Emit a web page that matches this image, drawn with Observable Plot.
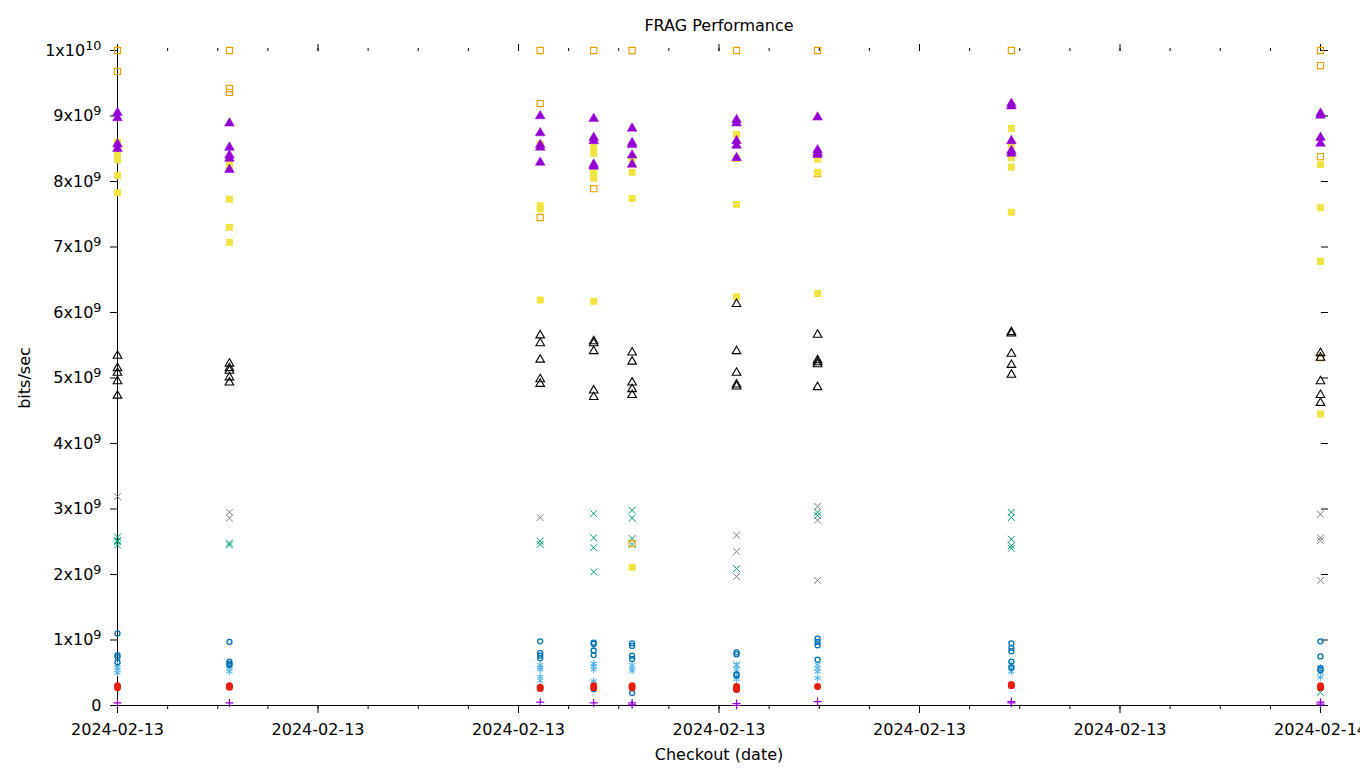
<!DOCTYPE html>
<html><head><meta charset="utf-8">
<script src="https://cdn.jsdelivr.net/npm/d3@7"></script>
<script src="https://cdn.jsdelivr.net/npm/@observablehq/plot@0.6"></script>
<style>html,body{margin:0;padding:0;background:#fff;overflow:hidden}</style>
</head><body><div id="chart"></div>
<script>
// Checkout timestamps (UTC)
const checkouts = [
  "2024-02-13T00:00:00Z", "2024-02-13T02:14:00Z", "2024-02-13T08:26:00Z",
  "2024-02-13T09:30:00Z", "2024-02-13T10:16:00Z", "2024-02-13T12:21:00Z",
  "2024-02-13T13:58:00Z", "2024-02-13T17:50:00Z", "2024-02-14T00:00:00Z"
];
// y tick values (in units of 1e9 bits/sec) and their labels
const yTickValues = [0, 1, 2, 3, 4, 5, 6, 7, 8, 9, 10];
const yTickLabels = ["0", "1x10^9", "2x10^9", "3x10^9", "4x10^9", "5x10^9", "6x10^9", "7x10^9", "8x10^9", "9x10^9", "1x10^10"];

// Series values, in 1e9 bits/sec, one list per checkout
const seriesPlusPurple = [[0.04],[0.04],[0.05],[0.04],[0.04,0.01],[0.03,0.0],[0.06],[0.06,0.04],[0.05,0.02]];
const seriesTimesGreen = [[2.57,2.52,2.50,2.45],[2.48,2.45],[2.51,2.46],[2.93,2.56,2.41,2.04],[2.98,2.86,2.55,2.46],[2.09,0.62],[2.95,2.90],[2.95,2.87,2.54,2.44,2.40],[0.20]];
const seriesAsteriskBlue = [[0.62,0.58,0.54,0.50],[0.60,0.57,0.52],[0.62,0.58,0.55,0.44,0.38],[0.64,0.60,0.55,0.37],[0.62,0.57,0.53],[0.62,0.56,0.43,0.40],[0.62,0.57,0.52,0.42],[0.63,0.58,0.52],[0.58,0.50,0.43]];
const seriesOpenSquareOrange = [[10.0,9.68],[10.0,9.42,9.36],[10.0,9.19,7.45],[10.0,7.89],[10.0,2.47],[10.0],[10.0,8.12],[10.0],[10.0,9.77,8.38,5.31]];
const seriesSquareYellow = [[8.60,8.52,8.40,8.33,8.09,7.83],[8.27,8.20,7.73,7.30,7.07],[8.57,7.63,7.58,6.19],[8.52,8.43,8.13,8.05,6.17],[8.35,8.14,7.74,2.11],[8.72,8.35,7.65,6.24],[8.34,8.14,6.29],[8.81,8.55,8.36,8.22,7.53],[8.26,7.60,6.78,4.45]];
const seriesOpenCircleBlue = [[1.10,0.77,0.74,0.66],[0.97,0.67,0.64,0.62],[0.98,0.80,0.76,0.72],[0.96,0.94,0.84,0.77,0.25],[0.95,0.91,0.76,0.71,0.19],[0.81,0.78,0.48,0.46,0.24],[1.02,0.97,0.92,0.70],[0.95,0.88,0.83,0.67,0.58],[0.98,0.75,0.57,0.54]];
const seriesCircleRed = [[0.30,0.27],[0.30,0.28],[0.28,0.26],[0.30,0.27],[0.30,0.27],[0.29,0.25],[0.29],[0.32,0.30],[0.30,0.27]];
const seriesOpenTriangleBlack = [[5.34,5.15,5.08,4.95,4.73],[5.22,5.15,5.11,5.01,4.93],[5.65,5.53,5.28,4.98,4.91],[5.56,5.53,5.41,4.81,4.71],[5.39,5.25,4.93,4.83,4.74],[6.13,5.41,5.08,4.90,4.87],[5.66,5.27,5.24,5.21,4.86],[5.70,5.68,5.37,5.20,5.05],[5.38,5.31,4.95,4.74,4.62]];
const seriesTrianglePurple = [[9.05,8.97,8.57,8.50],[8.89,8.52,8.40,8.35,8.18],[9.00,8.74,8.56,8.52,8.29],[8.96,8.67,8.62,8.26,8.23],[8.81,8.59,8.56,8.40,8.26],[8.94,8.89,8.62,8.55,8.36],[8.98,8.48,8.44,8.41],[9.19,9.15,8.62,8.47,8.43],[9.04,9.01,8.67,8.58]];
const seriesTimesGray = [[3.19],[2.95,2.86],[2.87],[],[],[2.60,2.35,1.97],[3.04,2.83,1.91],[],[2.92,2.56,2.52,1.91]];

function toRows(series) {
  return series.flatMap((vals, i) => vals.map(v => ({date: new Date(checkouts[i]), value: v})));
}

// drawing styles (gnuplot-like point types)
const layers = [
  {data: seriesPlusPurple, symbol: "plus", r: 2.7, fill: "none", stroke: "#9400d3", sw: 1.2},
  {data: seriesTimesGreen, symbol: "times", r: 3.2, fill: "none", stroke: "#009e73", sw: 1},
  {data: seriesAsteriskBlue, symbol: "asterisk", r: 3.3, fill: "none", stroke: "#56b4e9", sw: 1.1},
  {data: seriesOpenSquareOrange, symbol: "square", r: 3.5, fill: "none", stroke: "#e69f00", sw: 1.1},
  {data: seriesSquareYellow, symbol: "square", r: 3.95, fill: "#f0e442", stroke: "none", sw: 0},
  {data: seriesOpenCircleBlue, symbol: "circle", r: 2.5, fill: "none", stroke: "#0072b2", sw: 1.3},
  {data: seriesCircleRed, symbol: "circle", r: 3.5, fill: "#e51e10", stroke: "none", sw: 0},
  {data: seriesOpenTriangleBlack, symbol: "triangle", r: 3.2, fill: "none", stroke: "#000000", sw: 1.1},
  {data: seriesTrianglePurple, symbol: "triangle", r: 3.6, fill: "#9400d3", stroke: "#9400d3", sw: 0.5},
  {data: seriesTimesGray, symbol: "times", r: 3.2, fill: "none", stroke: "#808080", sw: 1}
];

const x0 = new Date(checkouts[0]);
const x1 = new Date(checkouts[checkouts.length - 1]);

const chart = Plot.plot({
  width: 1360,
  height: 768,
  marginLeft: 117,
  marginRight: 40,
  marginTop: 50,
  marginBottom: 63,
  style: {fontFamily: "DejaVu Sans", fontSize: "16px", background: "white", color: "black", overflow: "hidden"},
  x: {type: "utc", domain: [x0, x1]},
  y: {domain: [0, 10]},
  marks: [
    Plot.axisX({anchor: "bottom", ticks: d3.utcHour.every(4), tickSize: 8, tickPadding: 10, tickFormat: d3.utcFormat("%Y-%m-%d"), label: null}),
    Plot.axisX({anchor: "bottom", ticks: d3.utcHour.every(1), tickSize: 4, tickFormat: () => "", label: null}),
    Plot.axisX({anchor: "top", ticks: d3.utcHour.every(4), tickSize: 7, tickFormat: () => "", label: null}),
    Plot.axisX({anchor: "top", ticks: d3.utcHour.every(1), tickSize: 3, tickFormat: () => "", label: null}),
    Plot.axisY({anchor: "left", ticks: yTickValues, tickSize: 7, tickPadding: 9, tickFormat: d => yTickLabels[yTickValues.indexOf(d)], label: null}),
    Plot.axisY({anchor: "right", ticks: yTickValues, tickSize: 7, tickFormat: () => "", label: null}),
    Plot.ruleY([0], {stroke: "black", strokeWidth: 1}),
    Plot.ruleX([x0], {stroke: "black", strokeWidth: 1}),
    ...layers.map(l => Plot.dot(toRows(l.data), {x: "date", y: "value", symbol: l.symbol, r: l.r, fill: l.fill, stroke: l.stroke, strokeWidth: l.sw})),
    Plot.text(["FRAG Performance"], {frameAnchor: "top", dy: -25, lineAnchor: "middle", textAnchor: "middle", fontSize: 16, fill: "black"}),
    Plot.text(["bits/sec"], {frameAnchor: "left", dx: -93, rotate: -90, lineAnchor: "middle", textAnchor: "middle", fontSize: 16, fill: "black"}),
    Plot.text(["Checkout (date)"], {frameAnchor: "bottom", dy: 49, lineAnchor: "middle", textAnchor: "middle", fontSize: 16, fill: "black"})
  ]
});

// superscript exponents on y tick labels
const ns = "http://www.w3.org/2000/svg";
chart.querySelectorAll("text").forEach(t => {
  const s = t.textContent;
  if (s.includes("^") && t.children.length === 0) {
    const [base, exp] = s.split("^");
    t.textContent = "";
    const a = document.createElementNS(ns, "tspan");
    a.textContent = base;
    const b = document.createElementNS(ns, "tspan");
    b.setAttribute("dy", "-6");
    b.setAttribute("font-size", "12.8px");
    b.textContent = exp;
    t.append(a, b);
  }
});
document.getElementById("chart").append(chart);
</script>
</body></html>
